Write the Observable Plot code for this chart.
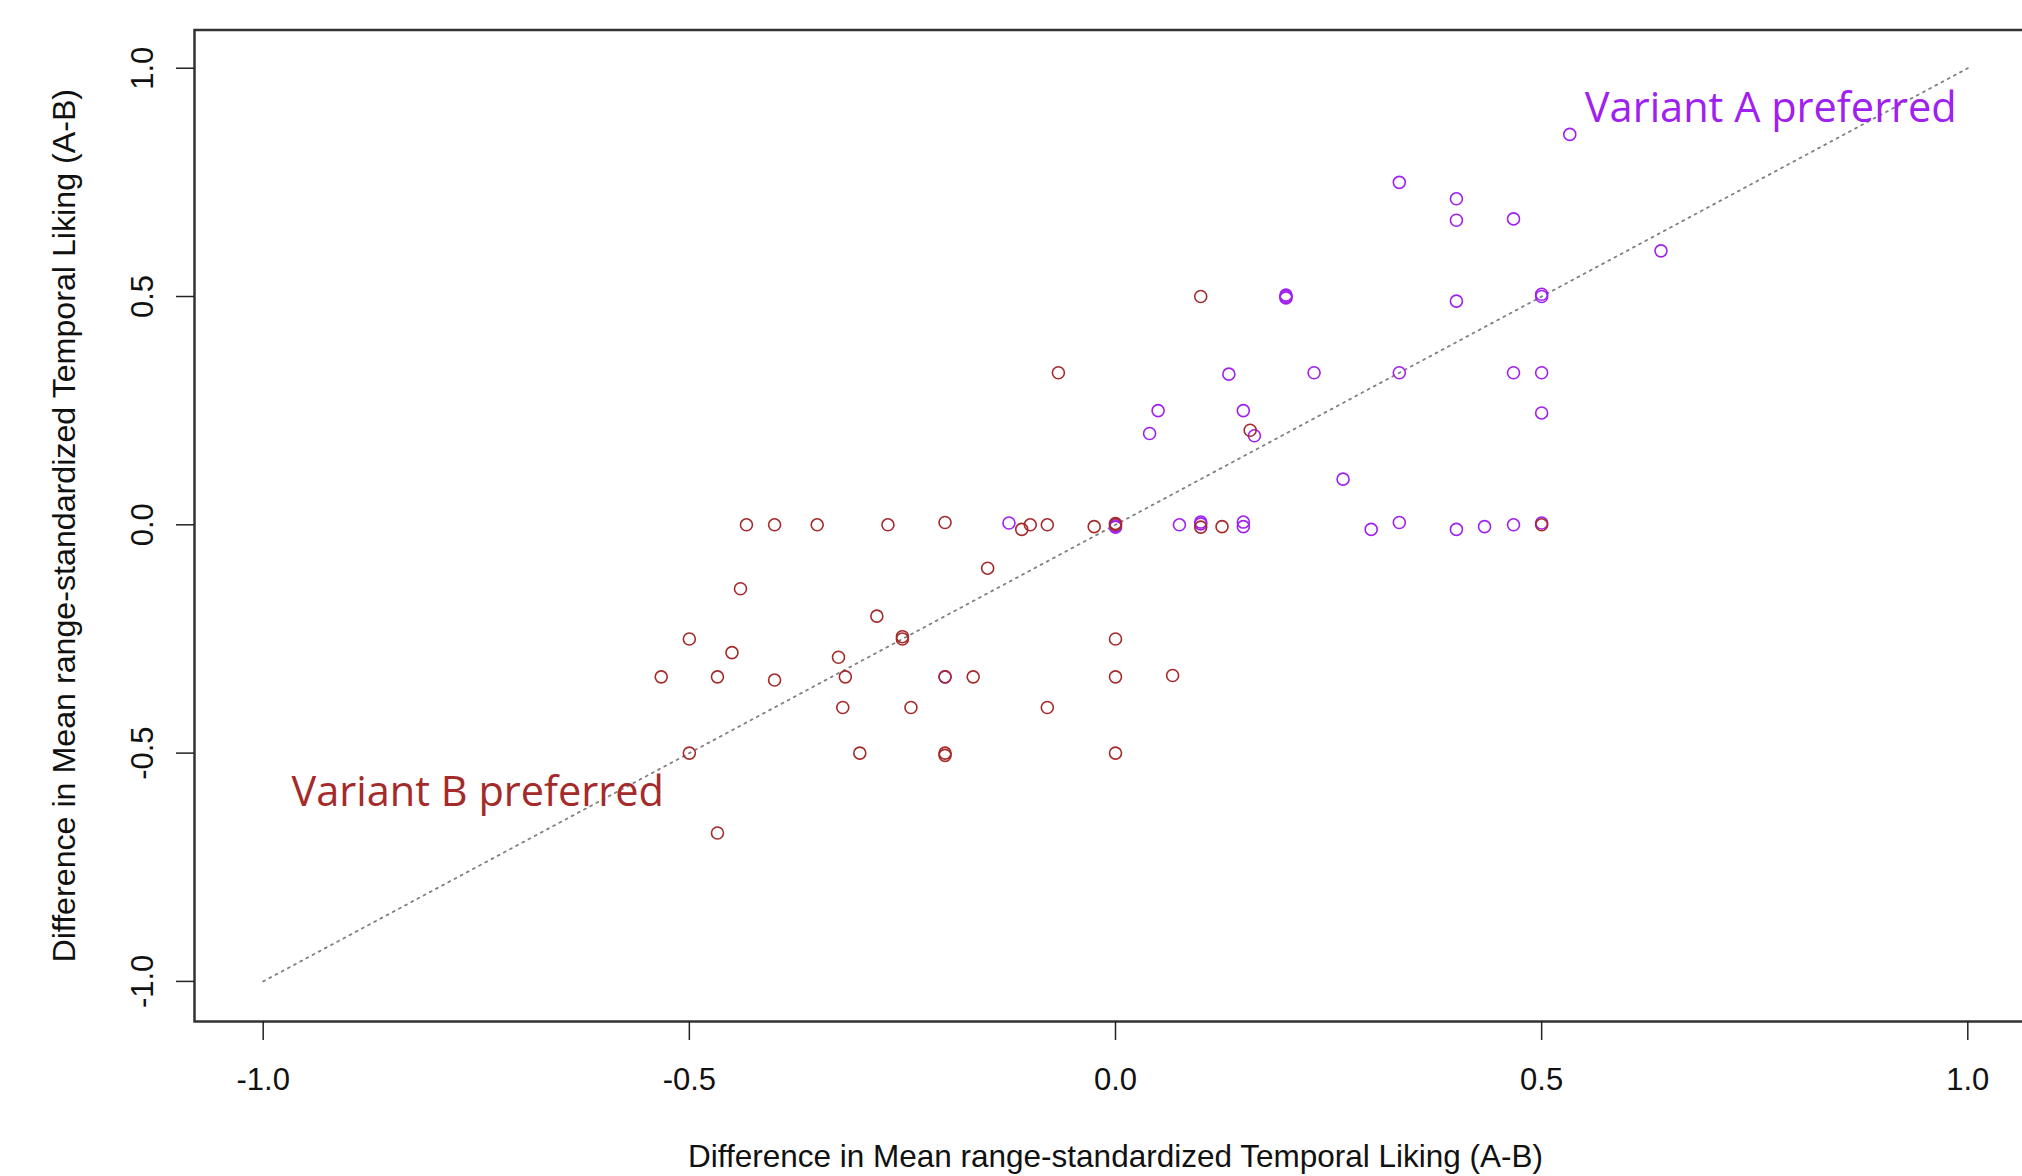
<!DOCTYPE html>
<html>
<head>
<meta charset="utf-8">
<script src="https://cdn.jsdelivr.net/npm/d3@7"></script>
<script src="https://cdn.jsdelivr.net/npm/@observablehq/plot@0.6"></script>
<style>
  html, body { margin: 0; padding: 0; background: #fff; overflow: hidden; }
  #chart { width: 2022px; height: 1176px; }
</style>
</head>
<body>
<div id="chart"></div>
<script>
// ---- data ----
const brownX = [-0.533, -0.5, -0.5, -0.467, -0.467, -0.45, -0.44, -0.433, -0.4, -0.4, -0.35, -0.325, -0.317, -0.32, -0.3, -0.28, -0.267, -0.25, -0.25, -0.24, -0.2, -0.2, -0.2, -0.2, -0.167, -0.15, -0.11, -0.1, -0.08, -0.08, -0.067, -0.025, 0, 0, 0, 0, 0, 0.067, 0.1, 0.1, 0.125, 0.158, 0.5];
const brownY = [-0.333, -0.25, -0.5, -0.333, -0.675, -0.28, -0.14, 0, 0, -0.34, 0, -0.29, -0.333, -0.4, -0.5, -0.2, 0, -0.25, -0.245, -0.4, 0.005, -0.333, -0.5, -0.505, -0.333, -0.095, -0.01, 0, 0, -0.4, 0.333, -0.004, 0.003, 0.001, -0.25, -0.333, -0.5, -0.33, 0.5, -0.005, -0.004, 0.207, 0];
const purpleX = [-0.125, -0.2, 0, 0, 0.04, 0.05, 0.075, 0.1, 0.1, 0.133, 0.15, 0.15, 0.15, 0.163, 0.2, 0.2, 0.2, 0.233, 0.267, 0.3, 0.333, 0.333, 0.333, 0.4, 0.4, 0.4, 0.4, 0.433, 0.467, 0.467, 0.467, 0.5, 0.5, 0.5, 0.5, 0.5, 0.533, 0.64];
const purpleY = [0.004, -0.333, -0.005, -0.002, 0.2, 0.25, 0, 0.006, 0.002, 0.33, 0.006, -0.004, 0.25, 0.195, 0.5, 0.497, 0.503, 0.333, 0.1, -0.01, 0.75, 0.333, 0.005, 0.714, 0.667, 0.49, -0.01, -0.004, 0.67, 0.333, 0, 0.5, 0.505, 0.333, 0.245, 0.004, 0.855, 0.6];
const refLine = [-1, 1];
const tickValues = [-1, -0.5, 0, 0.5, 1];
const xTitle = "Difference in Mean range-standardized Temporal Liking (A-B)";
const yTitle = "Difference in Mean range-standardized Temporal Liking (A-B)";
const labelA = "Variant A preferred";
const labelB = "Variant B preferred";

const BROWN = "#A52A2A";
const PURPLE = "#A020F0";

const purplePts = purpleX.map((x, i) => ({x, y: purpleY[i]}));
const brownPts = brownX.map((x, i) => ({x, y: brownY[i]}));
const fmt = d => d.toFixed(1);

const chart = Plot.plot({
  width: 2022,
  height: 1176,
  marginLeft: 194,
  marginRight: -14,
  marginTop: 29.5,
  marginBottom: 155,
  style: {fontFamily: "'Liberation Sans', Arial, sans-serif", background: "#fff", color: "#111"},
  x: {domain: [-1.0806, 1.0806]},
  y: {domain: [-1.0878, 1.0837]},
  marks: [
    Plot.line(refLine, {x: d => d, y: d => d, stroke: "#808080", strokeWidth: 1.8, strokeDasharray: "2,5"}),
    Plot.dot(purplePts, {x: "x", y: "y", r: 6, stroke: PURPLE, strokeWidth: 1.6, fill: "none"}),
    Plot.dot(brownPts, {x: "x", y: "y", r: 6, stroke: BROWN, strokeWidth: 1.6, fill: "none"}),
    Plot.frame({stroke: "#333", strokeWidth: 2.5}),
    Plot.axisX({ticks: tickValues, tickFormat: fmt, tickSize: 19, tickPadding: 27, fontSize: 31, label: null, stroke: "#222", strokeWidth: 1.5, fill: "#111"}),
    Plot.axisY({ticks: tickValues, tickFormat: fmt, tickSize: 18, tickPadding: 24, tickRotate: -90, fontSize: 31, label: null, stroke: "#222", strokeWidth: 1.5, fill: "#111"}),
    Plot.text([xTitle], {text: d => d, frameAnchor: "bottom", dy: 145, lineAnchor: "bottom", fontSize: 31.5, fill: "#111"}),
    Plot.text([yTitle], {text: d => d, frameAnchor: "left", dx: -120, rotate: -90, lineAnchor: "bottom", textAnchor: "middle", fontSize: 32.2, fill: "#111"}),
    Plot.text([labelA], {text: d => d, x: 0.5507, y: 0.8817, textAnchor: "start", lineAnchor: "bottom", fontSize: 41.5, fontFamily: "'Open Sans', sans-serif", fill: PURPLE}),
    Plot.text([labelB], {text: d => d, x: -0.9668, y: -0.6148, textAnchor: "start", lineAnchor: "bottom", fontSize: 41.5, fontFamily: "'Open Sans', sans-serif", fill: BROWN})
  ]
});
document.getElementById("chart").appendChild(chart);
</script>
</body>
</html>
